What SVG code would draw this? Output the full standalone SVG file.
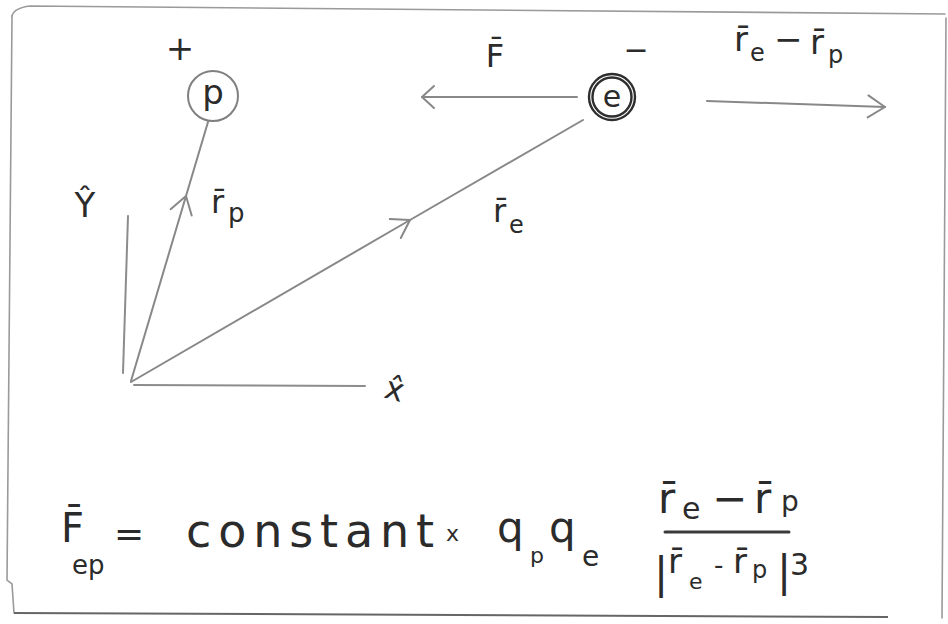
<svg xmlns="http://www.w3.org/2000/svg" width="948" height="624" viewBox="0 0 948 624">
<defs>
<style>
.bg{fill:#ffffff}
.frame{fill:none;stroke:#9a9a9a;stroke-width:1.6;stroke-linecap:round}
.frameb{fill:none;stroke:#666;stroke-width:2}
.vec{fill:none;stroke:#888;stroke-width:2;stroke-linecap:round}
.axis{fill:none;stroke:#8c8c8c;stroke-width:2;stroke-linecap:round}
.pc{fill:none;stroke:#808080;stroke-width:2}
.ec{fill:none;stroke:#2e2e2e;stroke-width:2.4}
.t{font-family:"DejaVu Sans","Liberation Sans",sans-serif;fill:#2b2b2b}
.bar{stroke:#3a3a3a;stroke-width:3;stroke-linecap:round}
</style>
<marker id="chev" markerUnits="userSpaceOnUse" viewBox="-20 -13 24 26" refX="0" refY="0" markerWidth="24" markerHeight="26" orient="auto" overflow="visible">
<path d="M-17,-11 L0,0 L-17,11" fill="none" stroke="#888" stroke-width="2" stroke-linecap="round" stroke-linejoin="round"/>
</marker>
<marker id="chevS" markerUnits="userSpaceOnUse" viewBox="-20 -13 24 26" refX="0" refY="0" markerWidth="24" markerHeight="26" orient="auto" overflow="visible">
<path d="M-12,-11 L0,0 L-12,11" fill="none" stroke="#888" stroke-width="2" stroke-linecap="round" stroke-linejoin="round"/>
</marker>
</defs>
<rect class="bg" x="0" y="0" width="948" height="624"/>

<g id="frame">
<path class="frame" d="M12,16 Q14,8 30,6 L945,14"/>
<path class="frame" d="M12,16 L7,580 L12,584 L14,613"/>
<path class="frameb" d="M14,613 L888,617"/>
<path class="frame" d="M946,18 L942,618"/>
</g>

<g id="connectors">
<path id="axis-y" class="axis" d="M128,216 L123,373"/>
<path id="axis-x" class="axis" d="M134,385 L365,386"/>
<polyline id="vec-rp" class="vec" points="131,381 186,196 208,122" marker-mid="url(#chev)"/>
<polyline id="vec-re" class="vec" points="131,382 410,220 583,120" marker-mid="url(#chev)"/>
<path id="force-F" class="vec" d="M577,97 L422,97" marker-end="url(#chevS)"/>
<path id="vec-diff" class="vec" d="M707,101 L885,107" marker-end="url(#chev)"/>
</g>

<g id="proton">
<circle class="pc" cx="213" cy="96" r="25"/>
<text class="t" x="213" y="104" font-size="34" text-anchor="middle">p</text>
<text class="t" x="180" y="60" font-size="34" text-anchor="middle">+</text>
</g>

<g id="electron">
<circle class="ec" cx="612" cy="97" r="23"/>
<circle class="ec" cx="612" cy="97" r="19.5" stroke-width="1.4"/>
<text class="t" x="612" y="107" font-size="30" text-anchor="middle">e</text>
<text class="t" x="636" y="60" font-size="30" text-anchor="middle">−</text>
</g>

<g id="labels">
<text class="t" x="495" y="67" font-size="32" text-anchor="middle">F̄</text>
<text class="t" font-size="34"><tspan x="734" y="51">r̄</tspan><tspan x="750" y="61" font-size="24">e</tspan><tspan x="774" y="51">−</tspan><tspan x="810" y="54">r̄</tspan><tspan x="828" y="63" font-size="24">p</tspan></text>
<text class="t" font-size="32"><tspan x="211" y="213">r̄</tspan><tspan x="228" y="222" font-size="26">p</tspan></text>
<text class="t" font-size="32"><tspan x="493" y="222">r̄</tspan><tspan x="509" y="233" font-size="24">e</tspan></text>
<text class="t" x="85" y="217" font-size="34" text-anchor="middle">Ŷ</text>
<text class="t" x="395" y="400" font-size="32" text-anchor="middle" transform="rotate(15 395 388)">x̂</text>
</g>

<g id="formula">
<text class="t" x="61" y="542" font-size="40">F̄</text>
<text class="t" x="72" y="574" font-size="26">ep</text>
<text class="t" x="114" y="546" font-size="36">=</text>
<text class="t" x="186" y="547" font-size="46" textLength="248" lengthAdjust="spacing">constant</text>
<text class="t" x="446" y="541" font-size="22">x</text>
<text class="t" font-size="42"><tspan x="497" y="542">q</tspan><tspan x="530" y="563" font-size="22">p</tspan><tspan x="549" y="542">q</tspan><tspan x="582" y="566" font-size="28">e</tspan></text>
<text class="t" font-size="42"><tspan x="658" y="513">r̄</tspan><tspan x="682" y="519" font-size="30">e</tspan><tspan x="712" y="513">−</tspan><tspan x="754" y="513">r̄</tspan><tspan x="781" y="511" font-size="28">p</tspan></text>
<line class="bar" x1="665" y1="532" x2="789" y2="532"/>
<text class="t" font-size="34"><tspan x="654" y="588" font-size="42">|</tspan><tspan x="668" y="573">r̄</tspan><tspan x="689" y="589" font-size="22">e</tspan><tspan x="714" y="574" font-size="26">-</tspan><tspan x="733" y="573">r̄</tspan><tspan x="752" y="578" font-size="24">p</tspan><tspan x="777" y="586" font-size="42">|</tspan><tspan x="790" y="575" font-size="30">3</tspan></text>
</g>
</svg>
